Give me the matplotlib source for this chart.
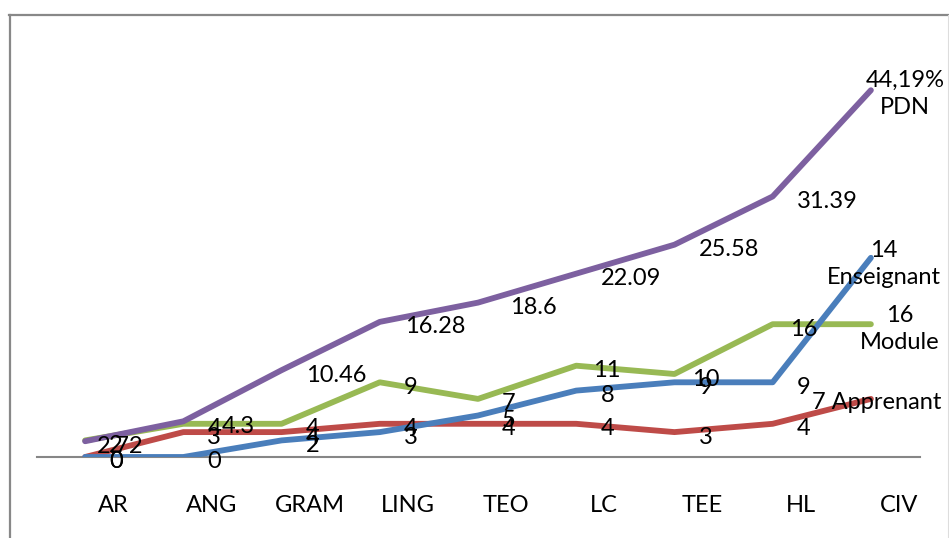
import numpy as np
import matplotlib
matplotlib.use("Agg")
import matplotlib.pyplot as plt
import matplotlib.transforms as mtransforms
from matplotlib.lines import Line2D

plt.rcParams['font.family'] = ['Lato', 'DejaVu Sans']

# categories and series
modules = ['AR', 'ANG', 'GRAM', 'LING', 'TEO', 'LC', 'TEE', 'HL', 'CIV']
enseignant = [0, 0, 2, 3, 5, 8, 9, 9, 24]
apprenant = [0, 3, 3, 4, 4, 4, 3, 4, 7]
module = [2, 4, 4, 9, 7, 11, 10, 16, 16]
pdn = [1.9, 4.3, 10.46, 16.28, 18.6, 22.09, 25.58, 31.39, 44.19]

# data labels as printed on the chart
enseignant_lbl = ['0', '0', '2', '3', '5', '8', '9', '9', '14\nEnseignant']
apprenant_lbl = ['0', '3', '4', '4', '4', '4', '3', '4', '7 Apprenant']
module_lbl = ['2', '4', '4', '9', '7', '11', '10', '16', '16\nModule']
pdn_lbl = ['2.72', '4.3', '10.46', '16.28', '18.6', '22.09', '25.58', '31.39', '44,19%\nPDN']

blue = '#4A7EBB'
red = '#BE4B48'
green = '#98B954'
purple = '#7D60A0'

W, H = 949, 538
fig = plt.figure(figsize=(W / 100, H / 100), dpi=100)
ax = fig.add_axes([37 / W, 1 - 457 / H, 883 / W, 442 / H])

x = np.arange(len(modules))
series = [
    (enseignant, enseignant_lbl, blue, 4, (31, -5), (13, -6)),
    (apprenant, apprenant_lbl, red, 3, (31, -5), (6, -4)),
    (module, module_lbl, green, 2, (31, -5), (29, -5)),
    (pdn, pdn_lbl, purple, 5, (55, -5), (34, -4)),
]
for vals, lbls, col, z, off, end_off in series:
    ax.plot(x, vals, color=col, lw=4.2, zorder=z, solid_capstyle='round')
    for i, (v, t) in enumerate(zip(vals, lbls)):
        o = off
        if i == len(vals) - 1:
            o = end_off
        elif col == purple and i == 0:
            o = (35, -5)
        ax.annotate(t, (i, v), xytext=o, textcoords='offset pixels',
                    ha='center', va='center', fontsize=17, zorder=10,
                    multialignment='center', linespacing=1.35)

ax.set_xlim(-0.49, 8.5)
ax.set_ylim(0, 442 / 8.3)
ax.set_yticks([])
for s in ['top', 'right', 'left']:
    ax.spines[s].set_visible(False)
ax.spines['bottom'].set_color('#868686')
ax.spines['bottom'].set_linewidth(1.5)
ax.spines['bottom'].set_zorder(1)
ax.set_xticks(x, modules)
ax.tick_params(axis='x', length=0, pad=27, labelsize=17)
shift = mtransforms.ScaledTranslation(0.28, 0, fig.dpi_scale_trans)
for lab in ax.get_xticklabels():
    lab.set_transform(lab.get_transform() + shift)

# outer chart frame
fig.add_artist(Line2D([9 / W, 1], [1 - 15 / H, 1 - 15 / H], color='#888888', lw=1.6))
fig.add_artist(Line2D([9.5 / W, 9.5 / W], [0, 1 - 15 / H], color='#888888', lw=1.6))
fig.add_artist(Line2D([947.5 / W, 947.5 / W], [0, 1 - 15 / H], color='#DDDDDD', lw=0.8))

fig.savefig('out.png', dpi=100)
